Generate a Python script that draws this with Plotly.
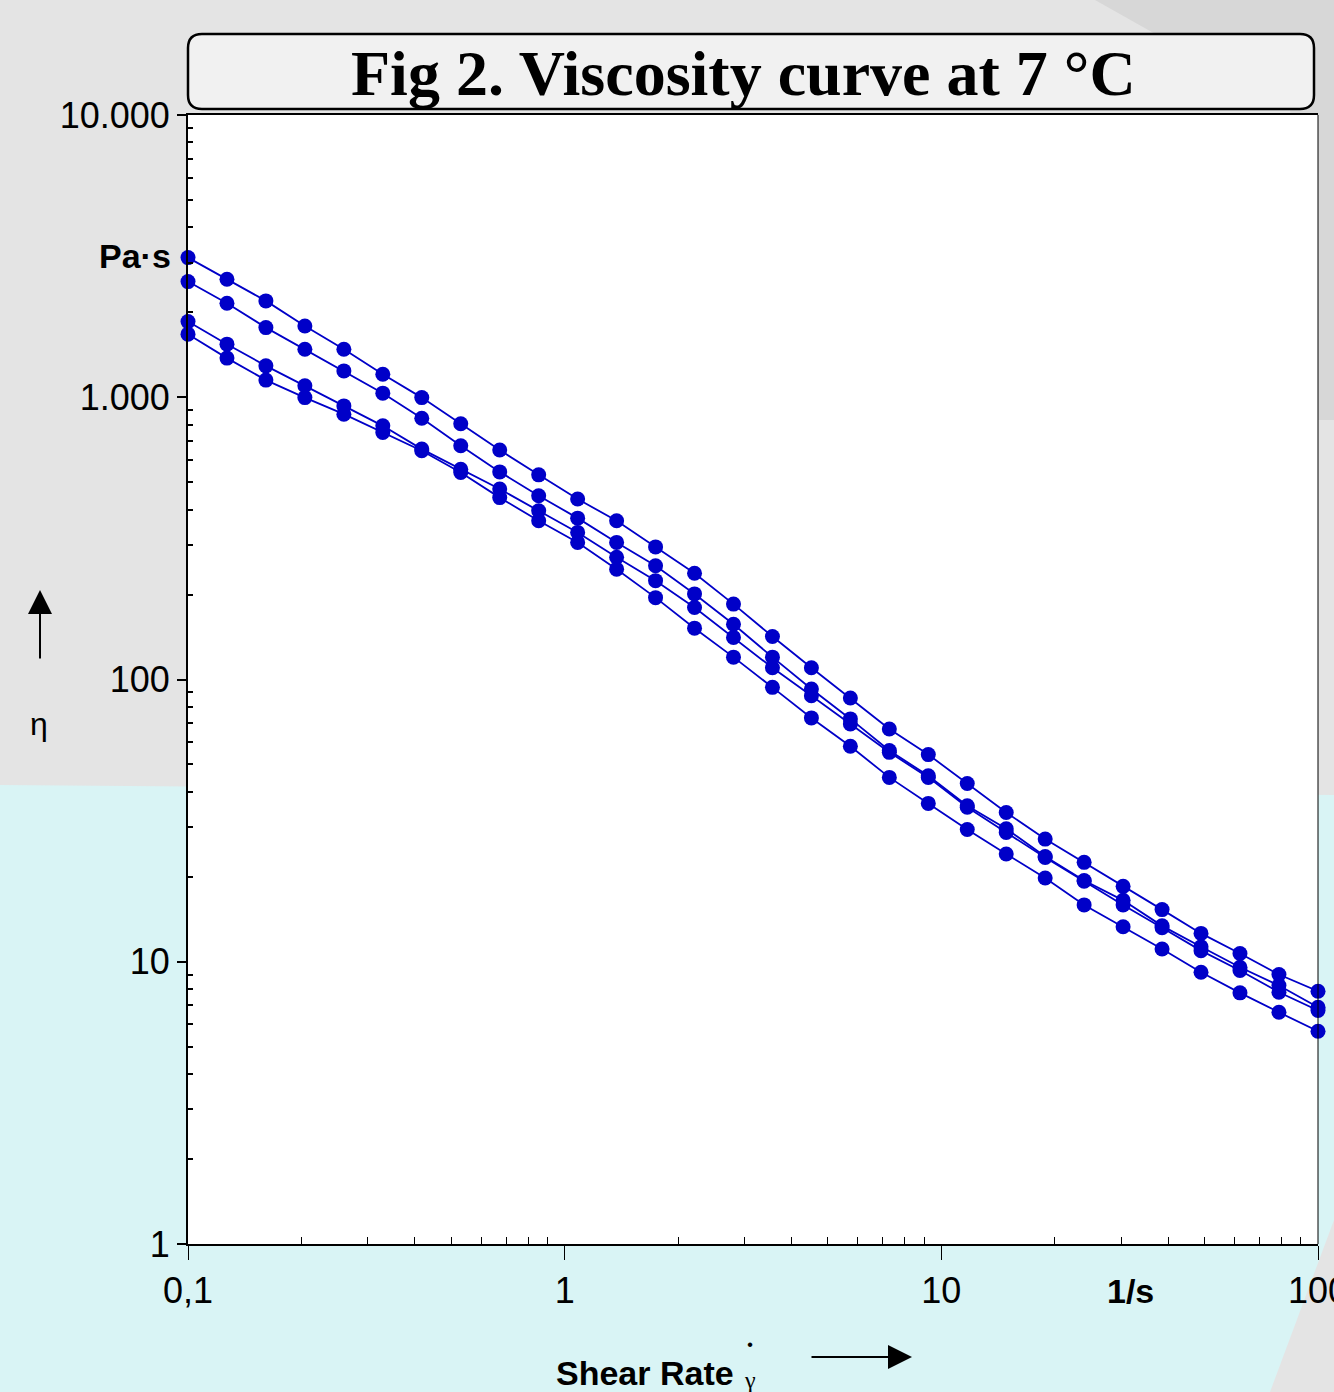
import plotly.graph_objects as go

# ---------------- data ----------------
shear_rate = [0.1, 0.1269, 0.161, 0.2043, 0.2593, 0.329, 0.4175, 0.5298, 0.6723, 0.8531,
              1.0826, 1.3737, 1.7431, 2.2119, 2.8067, 3.5615, 4.5193, 5.7346, 7.2768, 9.2337,
              11.717, 14.868, 18.866, 23.94, 30.378, 38.548, 48.914, 62.069, 78.761, 100.0]

visc_a = [3124, 2620, 2195, 1789, 1480, 1207, 997, 806, 650, 531,
          436, 365, 295, 238, 185, 142, 110, 86.0, 66.8, 54.2,
          42.8, 33.8, 27.2, 22.5, 18.5, 15.3, 12.6, 10.7, 9.01, 7.86]
visc_b = [2569, 2154, 1765, 1480, 1240, 1034, 843, 673, 544, 448,
          373, 306, 253, 201, 157, 120, 92.5, 72.5, 56.0, 45.6,
          35.7, 29.6, 23.6, 19.4, 16.5, 13.4, 11.3, 9.56, 8.24, 6.90]
visc_c = [1854, 1542, 1292, 1098, 932, 792, 655, 556, 473, 396,
          332, 271, 224, 180, 141, 110, 87.6, 69.6, 55.2, 45.0,
          35.3, 28.7, 23.4, 19.3, 15.9, 13.2, 10.95, 9.31, 7.80, 6.72]
visc_d = [1673, 1376, 1150, 997, 871, 750, 646, 541, 441, 365,
          306, 246, 195, 152, 120, 93.8, 73.1, 58.0, 45.0, 36.4,
          29.4, 24.1, 19.8, 15.9, 13.3, 11.1, 9.18, 7.76, 6.62, 5.67]
series = [visc_a, visc_b, visc_c, visc_d]

x_tickvals = [0.1, 1, 10, 100]
x_ticktext = ["0,1", "1", "10", "100"]
y_tickvals = [1, 10, 100, 1000, 10000]
y_ticktext = ["1", "10", "100", "1.000", "10.000"]
x_minor = [m * d for d in (0.1, 1, 10) for m in range(2, 10)]
y_minor = [m * d for d in (1, 10, 100, 1000) for m in range(2, 10)]

title_text = "Fig 2. Viscosity curve at 7 °C"

# ---------------- layout helpers (pixel -> paper) ----------------
W, H = 1334, 1392
L, R, T, B = 188, 1318, 115, 1244


def PX(px):
    return (px - L) / (R - L)


def PY(py):
    return (B - py) / (B - T)


BLUE = "#0000c8"
SANS = "Liberation Sans, Arial, sans-serif"

fig = go.Figure()
for s in series:
    fig.add_trace(go.Scatter(
        x=shear_rate, y=s, mode="lines+markers",
        line=dict(color=BLUE, width=1.8),
        marker=dict(color=BLUE, size=15, line=dict(width=0)),
        cliponaxis=False, showlegend=False, hoverinfo="x+y"))

shapes = []
# background regions
shapes.append(dict(type="path", xref="paper", yref="paper", layer="below",
                   path=f"M {PX(1095)},{PY(0)} L {PX(1334)},{PY(0)} L {PX(1334)},{PY(420)} "
                        f"L {PX(1318)},{PY(420)} L {PX(1290)},{PY(110)} Z",
                   fillcolor="#d7d7d7", line=dict(width=0)))
shapes.append(dict(type="path", xref="paper", yref="paper", layer="below",
                   path=f"M {PX(0)},{PY(785)} L {PX(1334)},{PY(795)} L {PX(1334)},{PY(1220)} "
                        f"L {PX(1270)},{PY(1392)} L {PX(0)},{PY(1392)} Z",
                   fillcolor="#d9f4f5", line=dict(width=0)))
# white plotting area
shapes.append(dict(type="rect", xref="paper", yref="paper", layer="below",
                   x0=0, x1=1, y0=0, y1=1, fillcolor="white", line=dict(width=0)))
# rounded title box
x0, x1 = PX(188), PX(1314)
y0, y1 = PY(109), PY(34)
rx, ry = 14 / (R - L), 14 / (B - T)
path = (f"M {x0+rx},{y1} L {x1-rx},{y1} Q {x1},{y1} {x1},{y1-ry} L {x1},{y0+ry} "
        f"Q {x1},{y0} {x1-rx},{y0} L {x0+rx},{y0} Q {x0},{y0} {x0},{y0+ry} "
        f"L {x0},{y1-ry} Q {x0},{y1} {x0+rx},{y1} Z")
shapes.append(dict(type="path", xref="paper", yref="paper", layer="below", path=path,
                   fillcolor="#f1f1f1", line=dict(color="black", width=2.5)))
# thin right border
shapes.append(dict(type="line", xref="paper", yref="paper", x0=1, x1=1, y0=0, y1=1,
                   line=dict(color="black", width=1)))


def ann(text, px, py, size, family=SANS, xanchor="center"):
    return dict(text=text, x=PX(px), y=PY(py), xref="paper", yref="paper",
                xanchor=xanchor, yanchor="middle", showarrow=False,
                font=dict(family=family, size=size, color="black"))


annotations = [
    ann(f"<b>{title_text}</b>", 743, 74, 64, family="Liberation Serif, Times New Roman, serif"),
    ann("<b>Pa·s</b>", 173, 256, 34, xanchor="right"),
    ann("<b>1/s</b>", 1130, 1291, 34),
    ann("<b>Shear Rate</b>", 736, 1373, 34, xanchor="right"),
    ann("γ", 750, 1380, 24, family="Liberation Serif, serif"),
    ann("<b>˙</b>", 750, 1352, 30, family="Liberation Serif, serif"),
    ann("η", 39, 724, 32, family="Liberation Sans, sans-serif"),
    # arrows
    dict(text="", x=PX(912), y=PY(1357), xref="paper", yref="paper",
         ax=-102, ay=0, axref="pixel", ayref="pixel",
         showarrow=True, arrowhead=2, arrowsize=2.4, arrowwidth=2, arrowcolor="black"),
    dict(text="", x=PX(40), y=PY(590), xref="paper", yref="paper",
         ax=0, ay=70, axref="pixel", ayref="pixel",
         showarrow=True, arrowhead=2, arrowsize=2.4, arrowwidth=2, arrowcolor="black"),
]

fig.update_layout(
    width=W, height=H,
    margin=dict(l=L, r=W - R, t=T, b=H - B, pad=0, autoexpand=False),
    paper_bgcolor="#e4e4e4", plot_bgcolor="rgba(0,0,0,0)",
    shapes=shapes, annotations=annotations, showlegend=False,
    xaxis=dict(type="log", range=[-1, 2], showgrid=False, zeroline=False,
               showline=True, linecolor="black", linewidth=2, mirror=True,
               automargin=False,
               tickmode="array", tickvals=x_tickvals, ticktext=x_ticktext,
               ticks="outside", ticklen=14, tickwidth=1, tickcolor="black",
               ticklabeloverflow="allow",
               tickfont=dict(family=SANS, size=36, color="black"),
               minor=dict(tickmode="array", tickvals=x_minor, ticks="inside",
                          ticklen=7, tickwidth=1, tickcolor="black", showgrid=False)),
    yaxis=dict(type="log", range=[0, 4], showgrid=False, zeroline=False,
               showline=True, linecolor="black", linewidth=2, mirror=False,
               automargin=False,
               tickmode="array", tickvals=y_tickvals, ticktext=y_ticktext,
               ticks="outside", ticklen=9, tickwidth=1.5, tickcolor="black",
               ticklabeloverflow="allow",
               tickfont=dict(family=SANS, size=36, color="black"),
               minor=dict(tickmode="array", tickvals=y_minor, ticks="inside",
                          ticklen=5, tickwidth=1.5, tickcolor="black", showgrid=False)),
)

fig.write_html("out.html")
